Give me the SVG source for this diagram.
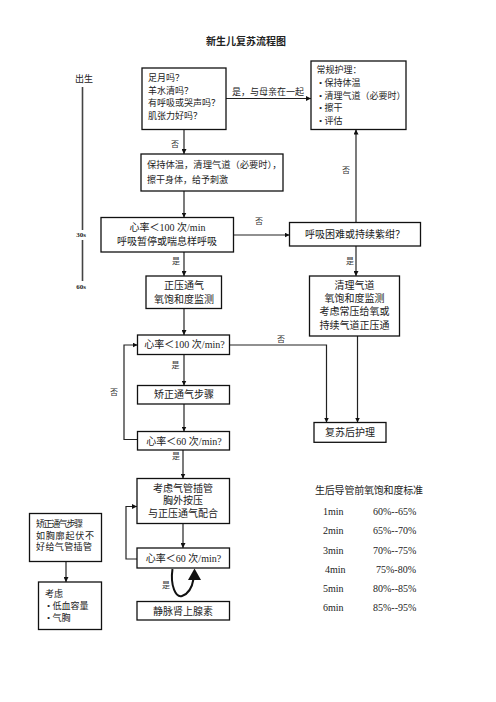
<svg xmlns="http://www.w3.org/2000/svg" width="496" height="702" viewBox="0 0 496 702">
<defs>
<marker id="ah" viewBox="0 0 10 10" refX="10" refY="5" markerWidth="5" markerHeight="5" orient="auto" markerUnits="userSpaceOnUse">
<path d="M0,0 L10,5 L0,10 z" fill="#111"/>
</marker>
<style>
.box{fill:#fff;stroke:#111;stroke-width:1.3}
.t{font-family:"Liberation Serif","Noto Sans CJK SC",serif;fill:#222;dominant-baseline:central}
.s9{font-size:9px}
.s10{font-size:10px}
.c{text-anchor:middle}
.lbl{font-family:"Liberation Serif","Noto Sans CJK SC",serif;font-size:8px;fill:#333;dominant-baseline:central;text-anchor:middle}
.ln{fill:none;stroke:#222;stroke-width:1.2}
.tl{fill:none;stroke:#444;stroke-width:1.6}
</style>
</defs>
<rect width="496" height="702" fill="#fff"/>
<text x="246" y="40" class="t c" style="font-size:10px;font-weight:bold;font-family:'Noto Sans CJK SC',sans-serif">新生儿复苏流程图</text>

<g id="timeline">
<text x="84" y="79" class="t s9 c" fill="#444">出生</text>
<line x1="82.5" y1="87" x2="82.5" y2="230" class="tl"/>
<text x="81" y="235" class="t c" style="font-size:7px;font-weight:bold">30s</text>
<line x1="82.5" y1="240" x2="82.5" y2="281" class="tl"/>
<text x="81" y="287" class="t c" style="font-size:7px;font-weight:bold">60s</text>
</g>

<g id="connectors">
<line x1="226" y1="98.5" x2="311" y2="98.5" class="ln" marker-end="url(#ah)"/>
<line x1="184" y1="129.5" x2="184" y2="154" class="ln" marker-end="url(#ah)"/>
<line x1="184" y1="191" x2="184" y2="217.5" class="ln" marker-end="url(#ah)"/>
<line x1="233.5" y1="235" x2="289.5" y2="235" class="ln" marker-end="url(#ah)"/>
<line x1="356" y1="222.5" x2="356" y2="129.5" class="ln" marker-end="url(#ah)"/>
<line x1="184" y1="252" x2="184" y2="276" class="ln" marker-end="url(#ah)"/>
<line x1="356" y1="246" x2="356" y2="276" class="ln" marker-end="url(#ah)"/>
<line x1="184" y1="308.5" x2="184" y2="335" class="ln" marker-end="url(#ah)"/>
<polyline points="229.5,345 326.5,345 326.5,422.5" class="ln" marker-end="url(#ah)"/>
<line x1="357.5" y1="336" x2="357.5" y2="422.5" class="ln" marker-end="url(#ah)"/>
<line x1="184" y1="354.5" x2="184" y2="385.5" class="ln" marker-end="url(#ah)"/>
<line x1="184" y1="404" x2="184" y2="431.5" class="ln" marker-end="url(#ah)"/>
<polyline points="137.5,439.5 124,439.5 124,345 137.5,345" class="ln" marker-end="url(#ah)"/>
<line x1="183" y1="450" x2="183" y2="478.5" class="ln" marker-end="url(#ah)"/>
<line x1="183" y1="523.5" x2="183" y2="548" class="ln" marker-end="url(#ah)"/>
<polyline points="137,559 126,559 126,506.5 137,506.5" class="ln" marker-end="url(#ah)"/>
<line x1="66" y1="561.5" x2="66" y2="582" class="ln" marker-end="url(#ah)"/>
<path d="M172.5,569 C170,586 176,598 182,596 C188,594 192,588 193.5,579" fill="none" stroke="#111" stroke-width="2"/>
<polygon points="194.5,568.5 188,580 201,580" fill="#111"/>
<text x="259" y="221" class="lbl">否</text>
<text x="175" y="144" class="lbl">否</text>
<text x="346" y="170" class="lbl">否</text>
<text x="176" y="261.5" class="lbl">是</text>
<text x="350" y="261.5" class="lbl">是</text>
<text x="281" y="339" class="lbl">否</text>
<text x="175.5" y="365" class="lbl">是</text>
<text x="114" y="392" class="lbl">否</text>
<text x="176" y="456" class="lbl">是</text>
<text x="166" y="585.5" class="lbl">是</text>
<text x="268" y="91.5" class="t s9 c">是，与母亲在一起</text>
</g>

<g id="n-assess">
<rect x="142" y="68" width="84" height="61.5" class="box"/>
<text x="148" y="78" class="t s9">足月吗？</text>
<text x="148" y="90.7" class="t s9">羊水清吗？</text>
<text x="148" y="103" class="t s9">有呼吸或哭声吗？</text>
<text x="148" y="116" class="t s9">肌张力好吗？</text>
</g>

<g id="n-routine">
<rect x="311" y="61" width="95" height="68.5" class="box"/>
<text x="316.5" y="70" class="t s9">常规护理：</text>
<text x="319" y="82.7" class="t s9">• 保持体温</text>
<text x="319" y="95.5" class="t s9">• 清理气道（必要时）</text>
<text x="319" y="108.3" class="t s9">• 擦干</text>
<text x="319" y="121" class="t s9">• 评估</text>
</g>

<g id="n-warm">
<rect x="141" y="154" width="142" height="37" class="box"/>
<text x="147" y="164.5" class="t s9" textLength="134.5" lengthAdjust="spacingAndGlyphs">保持体温，清理气道（必要时），</text>
<text x="147" y="179.5" class="t s9">擦干身体，给予刺激</text>
</g>

<g id="n-hr100a">
<rect x="101" y="217.5" width="132.5" height="34.5" class="box"/>
<text x="167.5" y="227" class="t s10 c">心率＜100 次/min</text>
<text x="167" y="241" class="t s10 c">呼吸暂停或喘息样呼吸</text>
</g>

<g id="n-dyspnea">
<rect x="289.5" y="222.5" width="131" height="23.5" class="box"/>
<text x="355" y="234.3" class="t s10 c">呼吸困难或持续紫绀？</text>
</g>

<g id="n-ppv">
<rect x="146" y="276" width="75.5" height="32.5" class="box"/>
<text x="184" y="285" class="t s10 c">正压通气</text>
<text x="184" y="299.3" class="t s10 c">氧饱和度监测</text>
</g>

<g id="n-clear">
<rect x="309.5" y="276" width="90" height="60" class="box"/>
<text x="354.5" y="285" class="t s10 c">清理气道</text>
<text x="354.5" y="298.3" class="t s10 c">氧饱和度监测</text>
<text x="354.5" y="311.7" class="t s10 c">考虑常压给氧或</text>
<text x="354.5" y="325" class="t s10 c">持续气道正压通</text>
</g>

<g id="n-hr100b">
<rect x="137.5" y="335" width="92" height="19.5" class="box"/>
<text x="184.5" y="344.5" class="t s10 c">心率＜100 次/min?</text>
</g>

<g id="n-post">
<rect x="314" y="422.5" width="72" height="19.8" class="box"/>
<text x="350" y="432.5" class="t s10 c">复苏后护理</text>
</g>

<g id="n-correct">
<rect x="137.5" y="385.5" width="92" height="18.5" class="box"/>
<text x="184" y="394.5" class="t s10 c">矫正通气步骤</text>
</g>

<g id="n-hr60a">
<rect x="137.5" y="431.5" width="92" height="18.5" class="box"/>
<text x="184" y="441" class="t s10 c">心率＜60 次/min?</text>
</g>

<g id="n-intubate">
<rect x="137" y="478.5" width="92.5" height="45" class="box"/>
<text x="183" y="488.3" class="t s10 c">考虑气管插管</text>
<text x="183" y="500.7" class="t s10 c">胸外按压</text>
<text x="183" y="513.3" class="t s10 c">与正压通气配合</text>
</g>

<g id="n-hr60b">
<rect x="137" y="548" width="92.5" height="20" class="box"/>
<text x="183.5" y="558" class="t s10 c">心率＜60 次/min?</text>
</g>

<g id="n-epi">
<rect x="137" y="601.5" width="92.5" height="18.5" class="box"/>
<text x="183" y="611" class="t s10 c">静脉肾上腺素</text>
</g>

<g id="n-left1">
<rect x="29.5" y="513.5" width="72" height="48" class="box"/>
<text x="36" y="524" class="t s9" textLength="47" lengthAdjust="spacing">矫正通气步骤</text>
<text x="36" y="535.5" class="t s9" textLength="58" lengthAdjust="spacing">如胸廓起伏不</text>
<text x="36" y="547" class="t s9" textLength="56" lengthAdjust="spacing">好给气管插管</text>
</g>

<g id="n-left2">
<rect x="38.5" y="582" width="63" height="47.5" class="box"/>
<text x="45" y="594" class="t s9">考虑</text>
<text x="47" y="606" class="t s9">• 低血容量</text>
<text x="47" y="618.3" class="t s9">• 气胸</text>
</g>

<g id="table">
<text x="315" y="490.5" class="t s10" textLength="108" lengthAdjust="spacing">生后导管前氧饱和度标准</text>
<text x="323" y="511.7" class="t s10">1min</text>
<text x="373" y="511.7" class="t s10">60%--65%</text>
<text x="323" y="530.7" class="t s10">2min</text>
<text x="373" y="530.7" class="t s10">65%--70%</text>
<text x="323" y="550" class="t s10">3min</text>
<text x="373" y="550" class="t s10">70%--75%</text>
<text x="325" y="569" class="t s10">4min</text>
<text x="376" y="569" class="t s10">75%-80%</text>
<text x="323" y="588.3" class="t s10">5min</text>
<text x="373" y="588.3" class="t s10">80%--85%</text>
<text x="323" y="607.3" class="t s10">6min</text>
<text x="373" y="607.3" class="t s10">85%--95%</text>
</g>
</svg>
